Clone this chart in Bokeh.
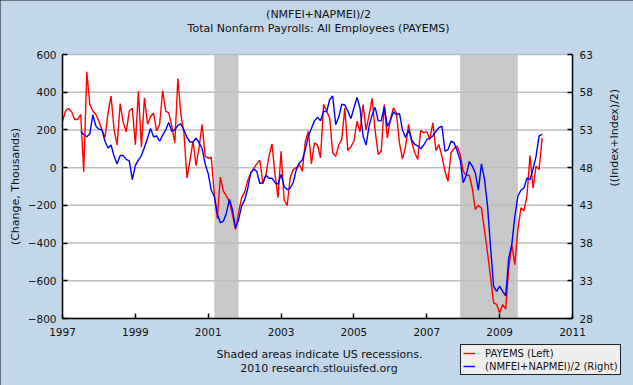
import math
from bokeh.plotting import figure
from bokeh.models import (ColumnDataSource, Range1d, LinearAxis, FixedTicker,
                          Label, Legend, LegendItem, BoxAnnotation)
from bokeh.embed import file_html
from bokeh.resources import INLINE

# ---------------- data ----------------
# PAYEMS monthly change (thousands), Jan 1997 .. Mar 2010
payems = [246, 300, 314, 296, 255, 255, 282, -22, 508, 335, 300, 282,
          246, 200, 160, 290, 380, 200, 120, 340, 240, 190, 300, 315,
          122, 405, 110, 370, 230, 270, 290, 195, 230, 409, 300, 290,
          220, 131, 473, 282, 185, -55, 40, 140, 10, 110, 229, 60,
          50, 55, -140, -270, -50, -125, -150, -180, -250, -328, -240, -160,
          -130, -70, -30, -5, 20, 40, -85, -40, 60, 126, -36, -160,
          87, -170, -200, -55, -10, 0, 15, -19, 140, 193, 20, 131,
          120, 52, 335, 300, 264, 79, 60, 120, 150, 317, 90, 110,
          140, 246, 190, 335, 200, 280, 367, 193, 70, 87, 335, 158,
          255, 317, 290, 130, 45, 110, 229, 140, 80, 43, 197, 185,
          190, 150, 238, 90, 122, 60, -19, -72, 80, 100, 115, 70,
          -20, -40, -40, -110, -222, -200, -215, -330, -450, -580, -717, -725,
          -770, -726, -750, -530, -408, -514, -330, -213, -228, -150, 64, -109,
          8, -10, 158]
payems_start = (1997, 1)

# (NMFEI+NAPMEI)/2, Jul 1997 .. Mar 2010
ism = [52.8, 52.4, 52.1, 52.5, 55.0, 53.5,
       53.1, 53.0, 51.5, 50.6, 51.0, 49.5, 48.5, 49.6, 49.6, 49.1, 48.9, 46.4,
       48.3, 49.0, 49.6, 50.7, 51.9, 53.2, 52.1, 52.2, 51.5, 52.3, 53.0, 54.0,
       52.8, 53.0, 53.6, 53.8, 53.0, 52.0, 51.4, 51.4, 51.9, 51.3, 50.5, 48.5,
       47.2, 45.0, 44.2, 41.9, 40.7, 40.9, 42.0, 43.8, 42.4, 40.0, 41.1, 42.9,
       43.7, 45.2, 47.3, 47.8, 47.5, 45.9, 46.0, 47.0, 46.6, 46.6, 46.0, 45.8,
       47.1, 45.5, 45.1, 45.3, 46.0, 47.7, 48.6, 49.0, 50.4, 52.2, 53.2, 54.2,
       54.7, 54.2, 55.5, 55.4, 57.0, 57.5, 53.7, 54.7, 56.4, 56.3, 55.5, 54.5,
       55.9, 57.3, 55.9, 52.2, 51.0, 53.5, 55.0, 56.0, 54.2, 54.2, 56.1, 53.5,
       54.2, 55.4, 55.0, 55.2, 53.0, 52.0, 53.0, 51.7, 51.1, 50.9, 50.5, 51.0,
       51.7, 51.9, 52.2, 52.8, 53.3, 53.5, 50.2, 50.4, 51.5, 51.3, 50.2, 49.0,
       46.0, 47.0, 48.8, 48.2, 47.3, 45.0, 48.5, 46.5, 43.0, 37.5, 32.3, 31.6,
       32.3, 31.6, 31.0, 36.0, 37.8, 41.5, 44.2, 45.0, 45.3, 46.6, 46.4, 47.8,
       49.5, 52.2, 52.4]
ism_start = (1997, 7)

# recessions (decimal years)
rec_start = [2001.167, 2007.917]
rec_end = [2001.833, 2009.5]

year_ticks = [1997, 1999, 2001, 2003, 2005, 2007, 2009, 2011]
left_ticks = [-800, -600, -400, -200, 0, 200, 400, 600]
right_ticks = [28, 33, 38, 43, 48, 53, 58, 63]

title1 = "(NMFEI+NAPMEI)/2"
title2 = "Total Nonfarm Payrolls: All Employees (PAYEMS)"
note1 = "Shaded areas indicate US recessions."
note2 = "2010 research.stlouisfed.org"
left_label = "(Change, Thousands)"
right_label = "((Index+Index)/2)"
legend_labels = ["PAYEMS (Left)", "(NMFEI+NAPMEI)/2 (Right)"]


def months(start, n):
    y, m = start
    return [y + (m - 1 + k) / 12.0 for k in range(n)]


# ---------------- layout (pixels) ----------------
W, H = 633, 385
PL, PR, PT, PB = 62, 572, 54, 318      # plot-area edges on the canvas
FONT = "DejaVu Sans"
BG = "#C3D7EA"
TXT = "#111111"

# the frame fills the canvas; ranges are widened so the plot area lands on PL..PR / PT..PB
x0, x1 = year_ticks[0], year_ticks[-1]
ly0, ly1 = left_ticks[0], left_ticks[-1]
ry0, ry1 = right_ticks[0], right_ticks[-1]
xs = (x1 - x0) / (PR - PL)
ls = (ly1 - ly0) / (PB - PT)
rs = (ry1 - ry0) / (PB - PT)

p = figure(width=W, height=H, output_backend="svg", toolbar_location=None,
           x_range=Range1d(x0 - PL * xs, x1 + (W - PR) * xs),
           y_range=Range1d(ly0 - (H - PB) * ls, ly1 + PT * ls),
           min_border=0, background_fill_color=BG, border_fill_color=BG,
           outline_line_color=None)
p.styles = {"outline": "2px solid #111111", "outline-offset": "-2px"}
p.extra_y_ranges = {"right": Range1d(ry0 - (H - PB) * rs, ry1 + PT * rs)}
p.xgrid.visible = False
p.ygrid.visible = False

# white plot area
p.add_layout(BoxAnnotation(left=x0, right=x1, bottom=ly0, top=ly1,
                           fill_color="white", fill_alpha=1.0,
                           line_color=None, level="image"))

# recession shading
rec_src = ColumnDataSource(dict(left=rec_start, right=rec_end,
                                bottom=[ly0] * len(rec_start),
                                top=[ly1] * len(rec_start)))
p.quad(left="left", right="right", bottom="bottom", top="top", source=rec_src,
       fill_color="#C8C8C8", line_color=None, level="underlay")

# horizontal grid lines at the left-axis ticks
p.segment(x0=[x0] * len(left_ticks), x1=[x1] * len(left_ticks),
          y0=left_ticks, y1=left_ticks, line_color="#BDBDBD",
          line_width=1.5, level="underlay")

# series
src_p = ColumnDataSource(dict(x=months(payems_start, len(payems)), y=payems))
src_i = ColumnDataSource(dict(x=months(ism_start, len(ism)), y=ism))
r_red = p.line("x", "y", source=src_p, line_color="#FF0000", line_width=1.4)
r_blue = p.line("x", "y", source=src_i, y_range_name="right",
                line_color="#0000FF", line_width=1.4)


def style_axis(ax):
    ax.axis_line_color = "black"
    ax.axis_line_width = 1.5
    ax.major_tick_in = 5
    ax.major_tick_out = 0
    ax.major_tick_line_color = "black"
    ax.major_tick_line_width = 1.5
    ax.minor_tick_line_color = None
    ax.major_label_text_font = FONT
    ax.major_label_text_font_size = "10.5px"
    ax.major_label_text_color = TXT
    ax.axis_label_text_font = FONT
    ax.axis_label_text_font_size = "11px"
    ax.axis_label_text_font_style = "normal"
    ax.axis_label_text_color = TXT


xa = p.xaxis[0]
style_axis(xa)
xa.ticker = FixedTicker(ticks=year_ticks)
xa.bounds = (x0, x1)
xa.fixed_location = ly0
xa.major_label_standoff = 9

ya = p.yaxis[0]
style_axis(ya)
ya.ticker = FixedTicker(ticks=left_ticks)
ya.bounds = (ly0, ly1)
ya.fixed_location = x0
ya.major_label_standoff = 6
ya.axis_label = left_label
ya.axis_label_standoff = 3

ra = LinearAxis(y_range_name="right", ticker=FixedTicker(ticks=right_ticks),
                axis_label=right_label, bounds=(ry0, ry1), fixed_location=x1)
style_axis(ra)
ra.major_label_standoff = 7
ra.axis_label_standoff = 19
ra.axis_label_orientation = math.pi / 2
p.add_layout(ra, "right")

# titles and notes (screen px: x from left, y from bottom of canvas)
for txt, sx, sy in [(title1, 318, H - 14), (title2, 318, H - 28),
                    (note1, 319, H - 354), (note2, 318.5, H - 368)]:
    p.add_layout(Label(x=sx, y=sy, x_units="screen", y_units="screen",
                       text=txt, text_align="center", text_baseline="middle",
                       text_font=FONT, text_font_size="11px",
                       text_color=TXT))

legend = Legend(items=[LegendItem(label=legend_labels[0], renderers=[r_red]),
                       LegendItem(label=legend_labels[1], renderers=[r_blue])],
                location=(460, H - 375), orientation="vertical",
                background_fill_color="#EFEFEF", background_fill_alpha=1.0,
                border_line_color="#222222", border_line_width=1,
                border_line_alpha=1.0,
                label_text_font=FONT, label_text_font_size="10px",
                label_text_color=TXT,
                glyph_width=12, glyph_height=12, label_standoff=10,
                spacing=1, padding=2, margin=0, label_height=12)
p.add_layout(legend, "center")

open("out.html", "w").write(file_html(p, INLINE))
